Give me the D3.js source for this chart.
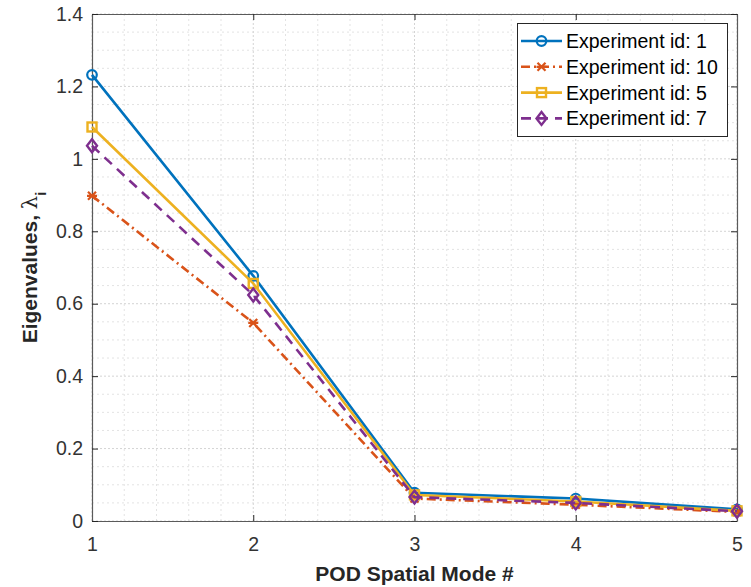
<!DOCTYPE html>
<html><head><meta charset="utf-8">
<script src="https://cdn.jsdelivr.net/npm/d3@7"></script>
<style>body{margin:0;background:#fff}svg{display:block}</style>
</head><body>
<script>
const modes = [1, 2, 3, 4, 5];
const seriesNames = ["Experiment id: 1", "Experiment id: 10", "Experiment id: 5", "Experiment id: 7"];
const exp1 = [1.232, 0.677, 0.078, 0.062, 0.032];
const exp10 = [0.898, 0.547, 0.062, 0.045, 0.025];
const exp5 = [1.088, 0.656, 0.072, 0.054, 0.028];
const exp7 = [1.036, 0.624, 0.066, 0.050, 0.027];
const xTicks = [1, 2, 3, 4, 5];
const yTicks = [0, 0.2, 0.4, 0.6, 0.8, 1, 1.2, 1.4];

const W = 751, H = 587;
const m = {l: 92, r: 14, t: 14, b: 66};
const svg = d3.select("body").append("svg").attr("width", W).attr("height", H);
const x = d3.scaleLinear().domain([1, 5]).range([m.l, W - m.r]);
const y = d3.scaleLinear().domain([0, 1.4]).range([H - m.b, m.t]);
const x0 = m.l, x1 = W - m.r, y0 = H - m.b, y1 = m.t;
const font = "'Liberation Sans', Arial, Helvetica, sans-serif";

// minor grid
const g = svg.append("g");
d3.range(1, 5.0001, 0.2).forEach(v => {
  if (Math.abs(v - Math.round(v)) < 1e-6) return;
  g.append("line").attr("x1", x(v)).attr("x2", x(v)).attr("y1", y0).attr("y2", y1)
   .attr("stroke", "#e3e3e3").attr("stroke-width", 1).attr("stroke-dasharray", "2,3");
});
d3.range(0, 1.40001, 0.05).forEach(v => {
  if (Math.abs(v * 5 - Math.round(v * 5)) < 1e-6) return;
  g.append("line").attr("x1", x0).attr("x2", x1).attr("y1", y(v)).attr("y2", y(v))
   .attr("stroke", "#e3e3e3").attr("stroke-width", 1).attr("stroke-dasharray", "2,3");
});
// major grid
xTicks.forEach(v => g.append("line").attr("x1", x(v)).attr("x2", x(v)).attr("y1", y0).attr("y2", y1)
  .attr("stroke", "#d4d4d4").attr("stroke-width", 1).attr("stroke-dasharray", "2,2"));
yTicks.forEach(v => g.append("line").attr("x1", x0).attr("x2", x1).attr("y1", y(v)).attr("y2", y(v))
  .attr("stroke", "#d4d4d4").attr("stroke-width", 1).attr("stroke-dasharray", "2,2"));

// axes with D3
const axColor = "#5a5a5a";
const xAxis = svg.append("g").attr("transform", `translate(0,${y0})`)
  .call(d3.axisBottom(x).tickValues(xTicks).tickFormat(d3.format("d")).tickSizeInner(-6).tickSizeOuter(0).tickPadding(16));
const xAxisT = svg.append("g").attr("transform", `translate(0,${y1})`)
  .call(d3.axisTop(x).tickValues(xTicks).tickFormat("").tickSizeInner(-6).tickSizeOuter(0));
const yAxis = svg.append("g").attr("transform", `translate(${x0},0)`)
  .call(d3.axisLeft(y).tickValues(yTicks).tickFormat(d => d === 0 ? "0" : d3.format("")(+d.toFixed(1))).tickSizeInner(-6).tickSizeOuter(0).tickPadding(9));
const yAxisR = svg.append("g").attr("transform", `translate(${x1},0)`)
  .call(d3.axisRight(y).tickValues(yTicks).tickFormat("").tickSizeInner(-6).tickSizeOuter(0));
[xAxis, xAxisT, yAxis, yAxisR].forEach(a => {
  a.select(".domain").attr("stroke", axColor).attr("stroke-width", 1.2);
  a.selectAll(".tick line").attr("stroke", "#262626").attr("stroke-width", 1);
  a.selectAll("text").attr("fill", "#333").attr("font-family", font).attr("font-size", 19.5);
});

// series
const colors = ["#0072BD", "#D95319", "#EDB120", "#7E2F8E"];
const dashes = [null, "9,4,2,4", null, "10,7"];
const markers = ["circle", "x", "square", "diamond"];
const data = [exp1, exp10, exp5, exp7];
const line = d3.line().x((d, i) => x(modes[i])).y(d => y(d));

function drawMarker(sel, type, cx, cy, color) {
  if (type === "circle") sel.append("circle").attr("cx", cx).attr("cy", cy).attr("r", 4.8)
    .attr("fill", "none").attr("stroke", color).attr("stroke-width", 2.2);
  else if (type === "square") sel.append("rect").attr("x", cx - 4.5).attr("y", cy - 4.5).attr("width", 9).attr("height", 9)
    .attr("fill", "none").attr("stroke", color).attr("stroke-width", 2.4);
  else if (type === "diamond") sel.append("path")
    .attr("d", `M${cx},${cy - 6.5}L${cx + 5},${cy}L${cx},${cy + 6.5}L${cx - 5},${cy}Z`)
    .attr("fill", "none").attr("stroke", color).attr("stroke-width", 2.4);
  else if (type === "x") sel.append("path")
    .attr("d", `M${cx - 4},${cy - 4}L${cx + 4},${cy + 4}M${cx - 4},${cy + 4}L${cx + 4},${cy - 4}M${cx - 5},${cy}L${cx + 5},${cy}`)
    .attr("fill", "none").attr("stroke", color).attr("stroke-width", 2.2);
}

data.forEach((vals, k) => {
  const gs = svg.append("g");
  gs.append("path").datum(vals).attr("d", line).attr("fill", "none")
    .attr("stroke", colors[k]).attr("stroke-width", 2.6)
    .attr("stroke-dasharray", dashes[k]).attr("stroke-linejoin", "round");
  vals.forEach((v, i) => drawMarker(gs, markers[k], x(modes[i]), y(v), colors[k]));
});

// legend
const lg = svg.append("g");
lg.append("rect").attr("x", 517.5).attr("y", 23.5).attr("width", 210).attr("height", 113)
  .attr("fill", "#fff").attr("stroke", "#262626").attr("stroke-width", 1);
seriesNames.forEach((name, k) => {
  const ly = 41 + k * 25.8;
  lg.append("line").attr("x1", 521).attr("x2", 562).attr("y1", ly).attr("y2", ly)
    .attr("stroke", colors[k]).attr("stroke-width", 2.6).attr("stroke-dasharray", dashes[k]);
  drawMarker(lg, markers[k], 541.5, ly, colors[k]);
  lg.append("text").attr("x", 566).attr("y", ly + 7).text(name)
    .attr("font-family", font).attr("font-size", 19.5).attr("fill", "#000");
});

// axis labels
svg.append("text").attr("x", (x0 + x1) / 2).attr("y", 581).attr("text-anchor", "middle")
  .attr("font-family", font).attr("font-size", 21).attr("font-weight", "bold").attr("fill", "#262626")
  .text("POD Spatial Mode #");
const yl = svg.append("text").attr("transform", `translate(37,${(y0 + y1) / 2}) rotate(-90)`)
  .attr("text-anchor", "middle").attr("font-family", font).attr("font-size", 21).attr("font-weight", "bold").attr("fill", "#262626");
yl.append("tspan").text("Eigenvalues, ");
yl.append("tspan").attr("font-weight", "normal").attr("font-family", "'DejaVu Serif', serif").text("λ");
yl.append("tspan").attr("baseline-shift", "sub").attr("font-size", 15).text("i");
</script>
</body></html>
